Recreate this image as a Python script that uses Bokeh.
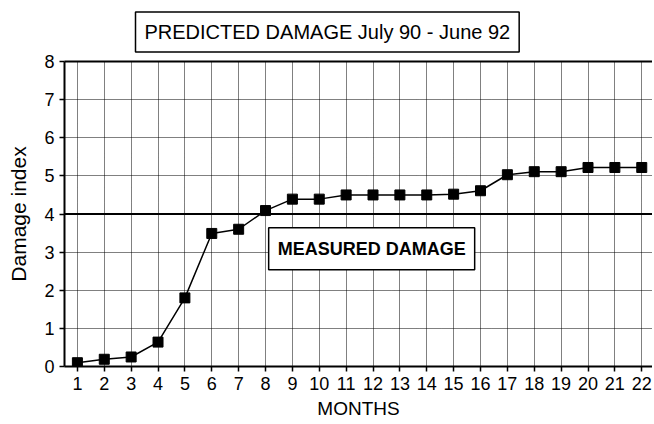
from bokeh.plotting import figure
from bokeh.models import (Label, LinearAxis, FixedTicker, Range1d, Span)
from bokeh.embed import file_html
from bokeh.resources import INLINE

months = list(range(1, 23))
damage = [0.1, 0.19, 0.25, 0.64, 1.8, 3.49, 3.6, 4.09, 4.39, 4.39, 4.5, 4.5,
          4.5, 4.5, 4.52, 4.61, 5.03, 5.11, 5.11, 5.22, 5.22, 5.22]
y_ticks = [0, 1, 2, 3, 4, 5, 6, 7, 8]
measured_level = 4
title_text = "PREDICTED DAMAGE July 90 - June 92"
measured_text = "MEASURED DAMAGE"

FONT = "Liberation Sans"

p = figure(width=652, height=422, output_backend="svg", toolbar_location=None,
           x_range=Range1d(0.52, 22.4), y_range=Range1d(0, 8),
           min_border_left=64, min_border_right=0, min_border_top=2,
           min_border_bottom=56)
p.outline_line_color = None
p.background_fill_color = "white"
p.border_fill_color = "white"

# title box
p.title.text = title_text
p.title.text_font = FONT
p.title.text_font_size = "20px"
p.title.text_font_style = "normal"
p.title.text_color = "black"
p.title.align = "left"
p.title.offset = 71
p.title.background_fill_color = "white"
p.title.border_line_color = "black"
p.title.border_line_width = 1.5
p.title.padding = (9, 9)
p.title.standoff = 19

# axes
for ax in (p.xaxis[0], p.yaxis[0]):
    ax.axis_line_color = "black"
    ax.axis_line_width = 2
    ax.major_tick_line_color = "black"
    ax.major_tick_line_width = 1.5
    ax.major_tick_out = 5
    ax.major_tick_in = 0
    ax.minor_tick_line_color = None
    ax.major_label_text_font = FONT
    ax.major_label_text_font_size = "18px"
    ax.major_label_text_color = "black"
    ax.axis_label_text_font = FONT
    ax.axis_label_text_font_size = "19px"
    ax.axis_label_text_font_style = "normal"
    ax.axis_label_text_color = "black"

p.xaxis[0].ticker = FixedTicker(ticks=months)
p.yaxis[0].ticker = FixedTicker(ticks=y_ticks)
p.xaxis[0].axis_label = "MONTHS"
p.yaxis[0].axis_label = "Damage index"
p.yaxis[0].axis_label_text_font_size = "21px"
p.xaxis[0].major_label_standoff = 5
p.yaxis[0].major_label_standoff = 5
p.xaxis[0].axis_label_standoff = 5
p.yaxis[0].axis_label_standoff = 11

# top border line
top = LinearAxis(ticker=FixedTicker(ticks=[]), axis_line_color="black",
                 axis_line_width=2, major_label_text_font_size="0px",
                 major_tick_line_color=None, minor_tick_line_color=None)
p.add_layout(top, "above")

# grids
p.xgrid[0].ticker = FixedTicker(ticks=months)
p.ygrid[0].ticker = FixedTicker(ticks=y_ticks)
for g in (p.xgrid[0], p.ygrid[0]):
    g.grid_line_color = "black"
    g.grid_line_dash = "1 1"
    g.grid_line_width = 1
    g.grid_line_alpha = 1.0

# measured damage level
p.add_layout(Span(location=measured_level, dimension="width",
                  line_color="black", line_width=2))

# series
p.line(months, damage, line_color="black", line_width=1.5)
p.scatter(months, damage, marker="square", size=10, fill_color="black",
          line_color="black")

# label
p.add_layout(Label(x=11.95, y=3.09, text=measured_text, text_font=FONT,
                   text_font_size="18px", text_font_style="bold",
                   text_color="black",
                   text_align="center", text_baseline="middle",
                   background_fill_color="white", border_line_color="black",
                   border_line_width=1.5, padding=(9, 11)))

open("out.html", "w").write(file_html(p, INLINE))
